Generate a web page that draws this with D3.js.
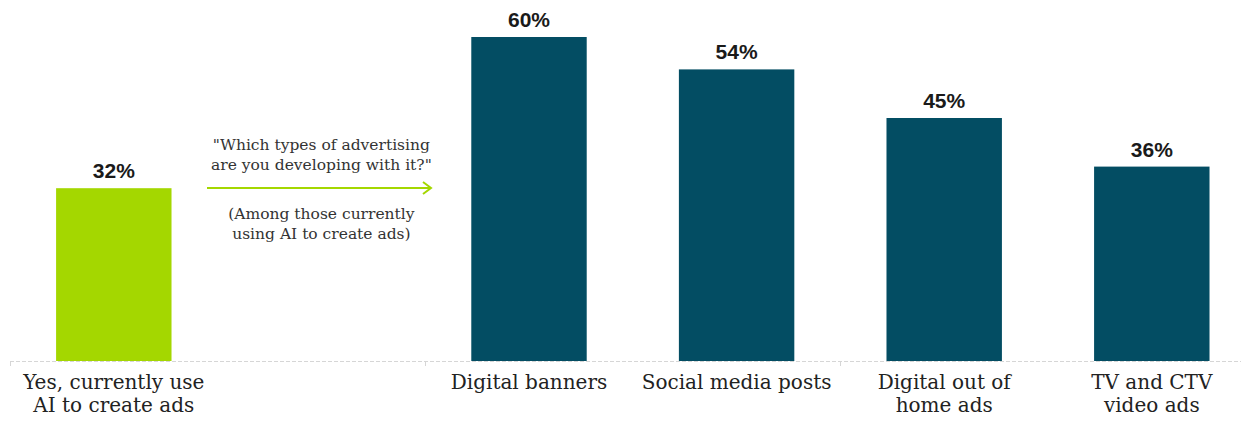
<!DOCTYPE html>
<html>
<head>
<meta charset="utf-8">
<script src="https://cdn.jsdelivr.net/npm/d3@7"></script>
<style>
  html, body { margin: 0; padding: 0; background: #fff; }
  svg { display: block; }
</style>
</head>
<body>
<svg id="chart" width="1241" height="421"></svg>
<script>
// ---- data ----
const categories = ["yes", "gap", "banners", "social", "dooh", "tv"];
const categoryLabels = [
  ["Yes, currently use", "AI to create ads"],
  [],
  ["Digital banners"],
  ["Social media posts"],
  ["Digital out of", "home ads"],
  ["TV and CTV", "video ads"]
];
const values = [32, null, 60, 54, 45, 36];
const barColors = ["#a4d700", null, "#034d63", "#034d63", "#034d63", "#034d63"];
const annotationQuestion = ["\"Which types of advertising", "are you developing with it?\""];
const annotationNote = ["(Among those currently", "using AI to create ads)"];

// ---- layout ----
const svg = d3.select("#chart");
const baseY = 361;
const x = d3.scaleBand()
  .domain(categories)
  .range([10, 10 + 6 * 207.6])
  .paddingInner(0.444)
  .paddingOuter(0.222);
const y = d3.scaleLinear().domain([0, 60]).range([baseY, 37]);

// bars
const bars = categories.map((c, i) => ({ c, v: values[i], col: barColors[i] })).filter(d => d.v != null);
svg.selectAll("rect.bar").data(bars).join("rect")
  .attr("class", "bar")
  .attr("x", d => x(d.c))
  .attr("y", d => y(d.v))
  .attr("width", x.bandwidth())
  .attr("height", d => baseY - y(d.v))
  .attr("fill", d => d.col);

// value labels
svg.selectAll("text.val").data(bars).join("text")
  .attr("class", "val")
  .attr("x", d => x(d.c) + x.bandwidth() / 2)
  .attr("y", d => y(d.v) - 10)
  .attr("text-anchor", "middle")
  .attr("font-family", "Liberation Sans, Arial, sans-serif")
  .attr("font-weight", "bold")
  .attr("font-size", 21)
  .attr("fill", "#1a1a1a")
  .text(d => d.v + "%");

// axis line (dashed)
const step = x.step();
svg.append("line")
  .attr("x1", 10).attr("x2", 1241)
  .attr("y1", baseY + 0.5).attr("y2", baseY + 0.5)
  .attr("stroke", "#d6d6d6").attr("stroke-width", 1)
  .attr("stroke-dasharray", "4,2");
const tickXs = [0, 2, 4].map(i => 10 + i * step);
svg.selectAll("line.tick").data(tickXs).join("line")
  .attr("class", "tick")
  .attr("x1", d => Math.round(d) + 0.5).attr("x2", d => Math.round(d) + 0.5)
  .attr("y1", baseY).attr("y2", baseY + 5)
  .attr("stroke", "#d6d6d6");

// category labels
categories.forEach((c, i) => {
  const t = svg.append("text")
    .attr("x", x(c) + x.bandwidth() / 2)
    .attr("y", 389)
    .attr("text-anchor", "middle")
    .attr("font-family", "DejaVu Serif, serif")
    .attr("font-size", 20)
    .attr("fill", "#222");
  categoryLabels[i].forEach((line, j) => {
    t.append("tspan").attr("x", x(c) + x.bandwidth() / 2).attr("dy", j === 0 ? 0 : 23).text(line);
  });
});

// annotation
const ax = x("gap") + x.bandwidth() / 2;
const q = svg.append("text")
  .attr("x", ax).attr("y", 150)
  .attr("text-anchor", "middle")
  .attr("font-family", "DejaVu Serif, serif")
  .attr("font-size", 15.5)
  .attr("fill", "#333");
annotationQuestion.forEach((line, j) => q.append("tspan").attr("x", ax).attr("dy", j === 0 ? 0 : 20).text(line));

// arrow
const arrowY = 188;
svg.append("line")
  .attr("x1", 207).attr("x2", 430)
  .attr("y1", arrowY).attr("y2", arrowY)
  .attr("stroke", "#a4d700").attr("stroke-width", 2);
svg.append("path")
  .attr("d", `M${423},${arrowY - 6} L${431},${arrowY} L${423},${arrowY + 6}`)
  .attr("fill", "none")
  .attr("stroke", "#a4d700").attr("stroke-width", 2);

const n = svg.append("text")
  .attr("x", ax).attr("y", 219)
  .attr("text-anchor", "middle")
  .attr("font-family", "DejaVu Serif, serif")
  .attr("font-size", 15.5)
  .attr("fill", "#333");
annotationNote.forEach((line, j) => n.append("tspan").attr("x", ax).attr("dy", j === 0 ? 0 : 20).text(line));
</script>
</body>
</html>
